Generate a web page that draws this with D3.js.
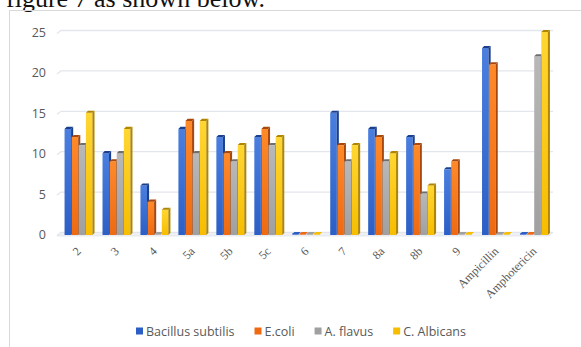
<!DOCTYPE html>
<html>
<head>
<meta charset="utf-8">
<script src="https://cdn.jsdelivr.net/npm/d3@7"></script>
<style>
  body { margin: 0; background: #fff; }
  svg { display: block; }
</style>
</head>
<body>
<svg id="chart" width="581" height="347"></svg>
<script>
const categories = ["2", "3", "4", "5a", "5b", "5c", "6", "7", "8a", "8b", "9", "Ampicillin", "Amphotericin"];
const seriesNames = ["Bacillus subtilis", "E.coli", "A. flavus", "C. Albicans"];
const bacillus = [13, 10, 6, 13, 12, 12, 0, 15, 13, 12, 8, 23, 0];
const ecoli    = [12, 9, 4, 14, 10, 13, 0, 11, 12, 11, 9, 21, 0];
const flavus   = [11, 10, 0, 10, 9, 11, 0, 9, 9, 5, 0, 0, 22];
const albicans = [15, 13, 3, 14, 11, 12, 0, 11, 10, 6, 0, 0, 25];
const yTicks = [0, 5, 10, 15, 20, 25];

const seriesValues = [bacillus, ecoli, flavus, albicans];
// light / mid / dark shade per series (Office 3D look)
const shades = [
  ["#4a7fe0", "#2c5fc6", "#1c3f8c"],
  ["#ff8a2a", "#ee6a12", "#a9480c"],
  ["#b8b8b8", "#a0a0a0", "#6e6e6e"],
  ["#ffd633", "#f7bd00", "#b08600"]
];

const svg = d3.select("#chart");
const W = 581, H = 347;
const plot = { left: 60, right: 553, top: 32, bottom: 234 };
const depth = 3;

// caption text above the chart (cut off at the top)
svg.append("text")
  .attr("x", 6).attr("y", 7)
  .attr("font-family", "Liberation Serif, Times New Roman, serif")
  .attr("font-size", 26)
  .attr("fill", "#111")
  .text("figure 7 as shown below.");

// chart frame
svg.append("rect")
  .attr("x", 9.5).attr("y", 10.5)
  .attr("width", W + 10).attr("height", H + 10)
  .attr("fill", "none").attr("stroke", "#d9d9d9");

const x = d3.scaleBand().domain(categories).range([plot.left, plot.right]).paddingInner(0.25).paddingOuter(0.12);
const xs = d3.scaleBand().domain(d3.range(4)).range([0, x.bandwidth()]);
const y = d3.scaleLinear().domain([0, 25]).range([plot.bottom, plot.top]);

// gridlines (back wall, with slanted floor edge)
const grid = svg.append("g");
yTicks.forEach(t => {
  const yy = y(t) - 1.5;
  grid.append("path")
    .attr("d", `M${plot.left - 3},${yy + 3} L${plot.left + 1},${yy} L${plot.right},${yy}`)
    .attr("fill", "none")
    .attr("stroke", "#e3e6ec")
    .attr("stroke-width", 1.3);
});
// floor
svg.append("path")
  .attr("d", `M${plot.left - 3},${y(0) + 2} L${plot.right - 4},${y(0) + 2} L${plot.right},${y(0) - 1.5} L${plot.left + 1},${y(0) - 1.5} Z`)
  .attr("fill", "#eef0f4").attr("stroke", "#e0e3ea").attr("stroke-width", 0.8);

// y axis labels
svg.append("g").selectAll("text")
  .data(yTicks).enter().append("text")
  .attr("x", 46).attr("y", d => y(d) + 5)
  .attr("text-anchor", "end")
  .attr("font-family", "Open Sans, Liberation Sans, sans-serif")
  .attr("font-size", 12.5)
  .attr("fill", "#595959")
  .text(d => d);

// gradients
const defs = svg.append("defs");
shades.forEach((s, i) => {
  const g = defs.append("linearGradient").attr("id", "g" + i)
    .attr("x1", "0").attr("x2", "0").attr("y1", "0").attr("y2", "1");
  g.append("stop").attr("offset", "0%").attr("stop-color", s[0]);
  g.append("stop").attr("offset", "100%").attr("stop-color", s[1]);
});

// bars
const bars = svg.append("g");
categories.forEach((c, ci) => {
  seriesValues.forEach((vals, si) => {
    const v = vals[ci];
    const bx = x(c) + xs(si);
    const bw = xs.bandwidth() - 0.6;
    const top = y(v), base = y(0) + 1;
    const s = shades[si];
    const g = bars.append("g");
    if (v > 0) {
      g.append("rect")
        .attr("x", bx).attr("y", top)
        .attr("width", bw).attr("height", base - top)
        .attr("fill", `url(#g${si})`);
      // side face
      g.append("path")
        .attr("d", `M${bx + bw},${top} L${bx + bw + depth * 0.7},${top - depth * 0.7} L${bx + bw + depth * 0.7},${base - depth * 0.7} L${bx + bw},${base} Z`)
        .attr("fill", s[2]);
    }
    // top face
    g.append("path")
      .attr("d", `M${bx},${top} L${bx + depth * 0.7},${top - depth * 0.7} L${bx + bw + depth * 0.7},${top - depth * 0.7} L${bx + bw},${top} Z`)
      .attr("fill", v > 0 ? s[2] : s[1]);
    if (v === 0) {
      g.append("rect").attr("x", bx).attr("y", top - 0.5).attr("width", bw).attr("height", 1.2).attr("fill", s[1]);
    }
  });
});

// category labels, rotated
svg.append("g").selectAll("text")
  .data(categories).enter().append("text")
  .attr("transform", d => `translate(${x(d) + x.bandwidth() / 2 + 1},${y(0) + 16}) rotate(-45)`)
  .attr("text-anchor", "end")
  .attr("dominant-baseline", "middle")
  .attr("font-family", "Liberation Serif, Times New Roman, serif")
  .attr("font-size", 12)
  .attr("fill", "#595959")
  .text(d => d);

// legend
const legend = svg.append("g").attr("transform", "translate(0,331)");
let lx = 136;
seriesNames.forEach((name, i) => {
  legend.append("rect")
    .attr("x", lx).attr("y", -3.5)
    .attr("width", 7).attr("height", 7)
    .attr("fill", shades[i][1]);
  const t = legend.append("text")
    .attr("x", lx + 10).attr("y", 4.5)
    .attr("font-family", "Open Sans, Liberation Sans, sans-serif")
    .attr("font-size", 12.5)
    .attr("fill", "#595959")
    .text(name);
  lx += 10 + t.node().getComputedTextLength() + 20;
});
</script>
</body>
</html>
